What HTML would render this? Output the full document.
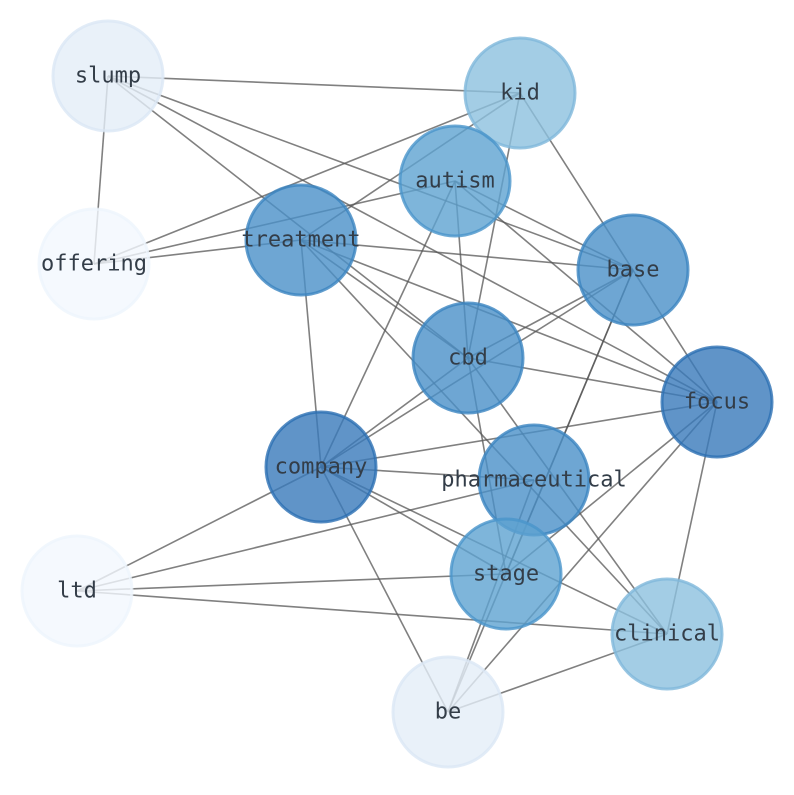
<!DOCTYPE html>
<html><head><style>html,body{margin:0;padding:0;background:#fff}</style></head><body>
<svg width="794" height="790" xmlns="http://www.w3.org/2000/svg">
<g stroke="#555" stroke-opacity="0.75" stroke-width="1.6">
<line x1="108" y1="76" x2="520" y2="93"/>
<line x1="108" y1="76" x2="94" y2="264"/>
<line x1="108" y1="76" x2="468" y2="358"/>
<line x1="108" y1="76" x2="633" y2="270"/>
<line x1="108" y1="76" x2="717" y2="402"/>
<line x1="520" y1="93" x2="94" y2="264"/>
<line x1="520" y1="93" x2="301" y2="240"/>
<line x1="520" y1="93" x2="717" y2="402"/>
<line x1="520" y1="93" x2="468" y2="358"/>
<line x1="455" y1="181" x2="94" y2="264"/>
<line x1="455" y1="181" x2="633" y2="270"/>
<line x1="455" y1="181" x2="468" y2="358"/>
<line x1="455" y1="181" x2="321" y2="467"/>
<line x1="455" y1="181" x2="717" y2="402"/>
<line x1="301" y1="240" x2="94" y2="264"/>
<line x1="301" y1="240" x2="633" y2="270"/>
<line x1="301" y1="240" x2="717" y2="402"/>
<line x1="301" y1="240" x2="321" y2="467"/>
<line x1="301" y1="240" x2="667" y2="634"/>
<line x1="301" y1="240" x2="468" y2="358"/>
<line x1="633" y1="270" x2="468" y2="358"/>
<line x1="633" y1="270" x2="321" y2="467"/>
<line x1="633" y1="270" x2="506" y2="574"/>
<line x1="633" y1="270" x2="448" y2="712"/>
<line x1="468" y1="358" x2="717" y2="402"/>
<line x1="468" y1="358" x2="321" y2="467"/>
<line x1="468" y1="358" x2="667" y2="634"/>
<line x1="468" y1="358" x2="506" y2="574"/>
<line x1="717" y1="402" x2="321" y2="467"/>
<line x1="717" y1="402" x2="506" y2="574"/>
<line x1="717" y1="402" x2="448" y2="712"/>
<line x1="717" y1="402" x2="667" y2="634"/>
<line x1="321" y1="467" x2="534" y2="480"/>
<line x1="321" y1="467" x2="77" y2="591"/>
<line x1="321" y1="467" x2="506" y2="574"/>
<line x1="321" y1="467" x2="667" y2="634"/>
<line x1="321" y1="467" x2="448" y2="712"/>
<line x1="534" y1="480" x2="77" y2="591"/>
<line x1="534" y1="480" x2="448" y2="712"/>
<line x1="77" y1="591" x2="506" y2="574"/>
<line x1="77" y1="591" x2="667" y2="634"/>
<line x1="448" y1="712" x2="667" y2="634"/>
</g>
<g stroke-width="3" fill-opacity="0.8" stroke-opacity="0.8">
<circle cx="108" cy="76" r="55" fill="#e3edf8" stroke="#dbe7f5"/>
<circle cx="520" cy="93" r="55" fill="#8cc0de" stroke="#80b8db"/>
<circle cx="455" cy="181" r="55" fill="#5ea3d1" stroke="#4a95cb"/>
<circle cx="301" cy="240" r="55" fill="#4a90c8" stroke="#3b84c1"/>
<circle cx="94" cy="264" r="55" fill="#f3f8fe" stroke="#eef5fd"/>
<circle cx="633" cy="270" r="55" fill="#4a90c8" stroke="#3b84c1"/>
<circle cx="468" cy="358" r="55" fill="#4a90c8" stroke="#3b84c1"/>
<circle cx="717" cy="402" r="55" fill="#3879ba" stroke="#2c6fb3"/>
<circle cx="321" cy="467" r="55" fill="#3879ba" stroke="#2c6fb3"/>
<circle cx="534" cy="480" r="55" fill="#4a90c8" stroke="#3b84c1"/>
<circle cx="77" cy="591" r="55" fill="#f3f8fe" stroke="#eef5fd"/>
<circle cx="506" cy="574" r="55" fill="#5ea3d1" stroke="#4a95cb"/>
<circle cx="667" cy="634" r="55" fill="#8cc0de" stroke="#80b8db"/>
<circle cx="448" cy="712" r="55" fill="#e3edf8" stroke="#dbe7f5"/>
</g>
<g font-family="'DejaVu Sans Mono','Liberation Mono',monospace" font-size="22" fill="#333d48" text-anchor="middle" dominant-baseline="central">
<text x="108" y="76">slump</text>
<text x="520" y="93">kid</text>
<text x="455" y="181">autism</text>
<text x="301" y="240">treatment</text>
<text x="94" y="264">offering</text>
<text x="633" y="270">base</text>
<text x="468" y="358">cbd</text>
<text x="717" y="402">focus</text>
<text x="321" y="467">company</text>
<text x="534" y="480">pharmaceutical</text>
<text x="77" y="591">ltd</text>
<text x="506" y="574">stage</text>
<text x="667" y="634">clinical</text>
<text x="448" y="712">be</text>
</g>
</svg>
</body></html>
